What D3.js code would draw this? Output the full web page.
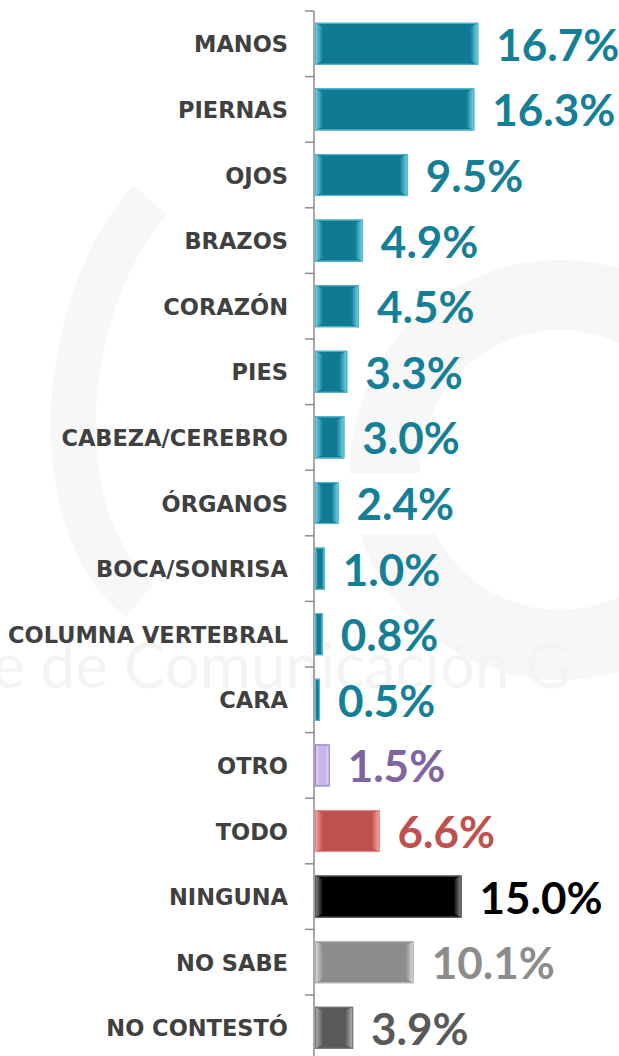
<!DOCTYPE html>
<html>
<head>
<meta charset="utf-8">
<script src="https://cdn.jsdelivr.net/npm/d3@7"></script>
<style>
  html, body { margin: 0; padding: 0; background: #fff; }
  svg { display: block; }
</style>
</head>
<body>
<div id="chart"></div>
<script>
// datos de la gráfica
const categories = ["MANOS", "PIERNAS", "OJOS", "BRAZOS", "CORAZÓN", "PIES", "CABEZA/CEREBRO",
    "ÓRGANOS", "BOCA/SONRISA", "COLUMNA VERTEBRAL", "CARA", "OTRO", "TODO", "NINGUNA", "NO SABE", "NO CONTESTÓ"];
const values = [16.7, 16.3, 9.5, 4.9, 4.5, 3.3, 3.0, 2.4, 1.0, 0.8, 0.5, 1.5, 6.6, 15.0, 10.1, 3.9];
const groups = ["parte", "parte", "parte", "parte", "parte", "parte", "parte", "parte", "parte", "parte", "parte",
    "otro", "todo", "ninguna", "nosabe", "nc"];

const width = 619, height = 1056;

// paleta por grupo
const palette = {
    parte:   { fill: "#0f7b93", light: "#7ad8ee", border: "#55b6cd", text: "#157f98" },
    otro:    { fill: "#c6b5ec", light: "#ece4fd", border: "#9a84c6", text: "#8064a2" },
    todo:    { fill: "#c0504d", light: "#fbaaa6", border: "#e38c88", text: "#c0504d" },
    ninguna: { fill: "#000000", light: "#909090", border: "#5a5a5a", text: "#000000" },
    nosabe:  { fill: "#8c8c8c", light: "#e0e0e0", border: "#b5b5b5", text: "#8c8c8c" },
    nc:      { fill: "#595959", light: "#b8b8b8", border: "#7a7a7a", text: "#595959" }
};

const svg = d3.select("#chart").append("svg")
    .attr("width", width)
    .attr("height", height);

// marca de agua tenue
const wm = svg.append("g").attr("class", "watermark");
wm.append("circle")
    .attr("cx", 560).attr("cy", 470).attr("r", 175)
    .attr("fill", "none").attr("stroke", "#f7f7f7").attr("stroke-width", 70);
wm.append("path")
    .attr("d", "M 150 200 C 60 300, 40 520, 140 600")
    .attr("fill", "none").attr("stroke", "#f7f7f7").attr("stroke-width", 45);
wm.append("text")
    .attr("x", -8).attr("y", 688)
    .attr("font-family", "Lato, sans-serif")
    .attr("font-size", 62)
    .attr("fill", "#f4f4f4")
    .text("e de Comunicación G");

const axisX = 314;

const y = d3.scaleBand()
    .domain(categories)
    .range([11, 11 + 65.6 * categories.length])
    .paddingInner(0.36)
    .paddingOuter(0.18);

const x = d3.scaleLinear()
    .domain([0, 20])
    .range([axisX + 1, axisX + 1 + 195.4]);

// gradientes para el bisel
const defs = svg.append("defs");
Object.entries(palette).forEach(([k, c]) => {
    const gl = defs.append("linearGradient").attr("id", "bl-" + k)
        .attr("x1", "0%").attr("x2", "100%").attr("y1", "0%").attr("y2", "0%");
    gl.append("stop").attr("offset", "0%").attr("stop-color", c.light);
    gl.append("stop").attr("offset", "100%").attr("stop-color", c.fill);
    const gr = defs.append("linearGradient").attr("id", "br-" + k)
        .attr("x1", "0%").attr("x2", "100%").attr("y1", "0%").attr("y2", "0%");
    gr.append("stop").attr("offset", "0%").attr("stop-color", c.fill);
    gr.append("stop").attr("offset", "100%").attr("stop-color", c.light);
});

// eje vertical con marcas
const axisG = svg.append("g");
const ticksY = d3.range(categories.length + 1).map(i => 11 + i * 65.6);
axisG.append("line")
    .attr("x1", axisX).attr("x2", axisX)
    .attr("y1", 11).attr("y2", height)
    .attr("stroke", "#8c8c8c").attr("stroke-width", 1.5);
axisG.selectAll("line.tick")
    .data(ticksY)
    .join("line")
    .attr("class", "tick")
    .attr("x1", axisX - 9).attr("x2", axisX)
    .attr("y1", d => d).attr("y2", d => d)
    .attr("stroke", "#8c8c8c").attr("stroke-width", 1.5);

// barras
const rows = categories.map((c, i) => ({ cat: c, value: values[i], group: groups[i] }));

const bar = svg.selectAll("g.bar")
    .data(rows)
    .join("g")
    .attr("class", "bar");

bar.each(function(d) {
    const g = d3.select(this);
    const c = palette[d.group];
    const x0 = x(0), x1 = x(d.value);
    const w = x1 - x0;
    const y0 = y(d.cat), h = y.bandwidth();
    const bv = Math.min(8, w * 0.3);
    const bt = 4;

    g.append("rect")
        .attr("x", x0).attr("y", y0)
        .attr("width", w).attr("height", h)
        .attr("fill", c.fill);
    // bisel izquierdo
    g.append("polygon")
        .attr("points", [[x0, y0], [x0 + bv, y0 + bt], [x0 + bv, y0 + h - bt], [x0, y0 + h]].join(" "))
        .attr("fill", `url(#bl-${d.group})`);
    // bisel derecho
    g.append("polygon")
        .attr("points", [[x1, y0], [x1 - bv, y0 + bt], [x1 - bv, y0 + h - bt], [x1, y0 + h]].join(" "))
        .attr("fill", `url(#br-${d.group})`);
    // borde
    g.append("rect")
        .attr("x", x0 + 0.5).attr("y", y0 + 0.5)
        .attr("width", Math.max(0, w - 1)).attr("height", h - 1)
        .attr("fill", "none")
        .attr("stroke", c.border).attr("stroke-width", 1.2);
});

// etiquetas de categoría
svg.selectAll("text.cat")
    .data(rows)
    .join("text")
    .attr("class", "cat")
    .attr("x", 288)
    .attr("y", d => y(d.cat) + y.bandwidth() / 2 + 8.5)
    .attr("text-anchor", "end")
    .attr("font-family", "'DejaVu Sans', sans-serif")
    .attr("font-weight", "bold")
    .attr("font-size", 22.5)
    .attr("fill", "#404040")
    .text(d => d.cat);

// fondo blanco de la etiqueta 2.4%
const org = rows.find(d => d.cat === "ÓRGANOS");
svg.append("rect")
    .attr("x", x(org.value) + 9)
    .attr("y", y(org.cat) + y.bandwidth() / 2 - 30)
    .attr("width", 112).attr("height", 61)
    .attr("fill", "#fff");

// etiquetas de valor
svg.selectAll("text.val")
    .data(rows)
    .join("text")
    .attr("class", "val")
    .attr("x", d => x(d.value) + 18)
    .attr("y", d => y(d.cat) + y.bandwidth() / 2 + 17)
    .attr("font-family", "Lato, sans-serif")
    .attr("font-weight", "bold")
    .attr("font-size", 44)
    .attr("fill", d => palette[d.group].text)
    .text(d => d.value.toFixed(1) + "%");
</script>
</body>
</html>
